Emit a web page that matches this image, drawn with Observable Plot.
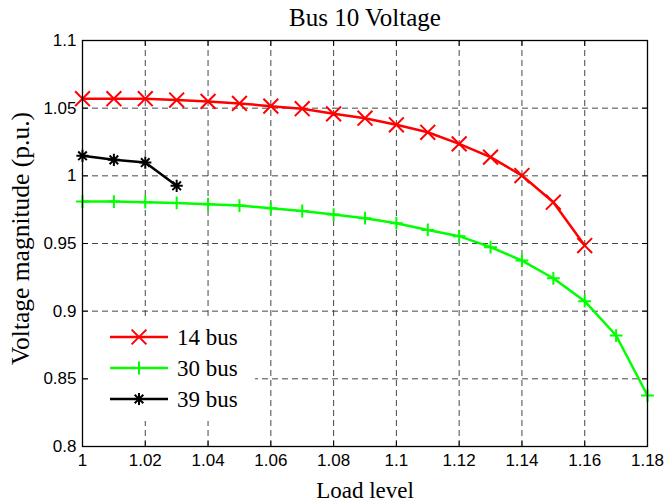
<!DOCTYPE html>
<html>
<head>
<meta charset="utf-8">
<script src="https://cdn.jsdelivr.net/npm/d3@7"></script>
<script src="https://cdn.jsdelivr.net/npm/@observablehq/plot@0.6"></script>
<style>
  html, body { margin: 0; padding: 0; background: #fff; }
  #wrap { position: relative; width: 665px; height: 504px; }
  #legend { position: absolute; left: 90px; top: 318px; width: 165px; height: 103px; background: #fff; }
</style>
</head>
<body>
<div id="wrap"><div id="chart"></div><div id="legend"></div></div>
<script>
const load14 = [1.00, 1.01, 1.02, 1.03, 1.04, 1.05, 1.06, 1.07, 1.08, 1.09, 1.10, 1.11, 1.12, 1.13, 1.14, 1.15, 1.16];
const volt14 = [1.057, 1.057, 1.057, 1.056, 1.055, 1.0535, 1.0515, 1.0496, 1.0458, 1.0426, 1.0377, 1.0322, 1.0236, 1.0138, 1.0002, 0.9805, 0.9485];
const load30 = [1.00, 1.01, 1.02, 1.03, 1.04, 1.05, 1.06, 1.07, 1.08, 1.09, 1.10, 1.11, 1.12, 1.13, 1.14, 1.15, 1.16, 1.17, 1.18];
const volt30 = [0.981, 0.981, 0.9805, 0.980, 0.979, 0.978, 0.976, 0.974, 0.9714, 0.9687, 0.965, 0.960, 0.9554, 0.9473, 0.9374, 0.9243, 0.9074, 0.882, 0.8377];
const load39 = [1.00, 1.01, 1.02, 1.03];
const volt39 = [1.0148, 1.0118, 1.0098, 0.9926];
const xTicks = [1, 1.02, 1.04, 1.06, 1.08, 1.1, 1.12, 1.14, 1.16, 1.18];
const yTicks = [0.8, 0.85, 0.9, 0.95, 1, 1.05, 1.1];
const seriesNames = ["14 bus", "30 bus", "39 bus"];
const seriesColors = ["#ff0000", "#00ff00", "#000000"];
const titleText = "Bus 10 Voltage";
const xLabel = "Load level";
const yLabel = "Voltage magnitude (p.u.)";

// 8-armed asterisk like MATLAB's '*' marker
const star8 = {
  draw(ctx, size) {
    const r = Math.sqrt(size / Math.PI) * 1.05;
    for (let k = 0; k < 4; k++) {
      const a = k * Math.PI / 4, c = Math.cos(a) * r, s = Math.sin(a) * r;
      ctx.moveTo(-c, -s); ctx.lineTo(c, s);
    }
  }
};
const seriesSymbols = [d3.symbolTimes, d3.symbolPlus, star8];
const symR = [6.8, 4.2, 5.8];

const toRows = (xs, ys, s) => xs.map((x, i) => ({x, y: ys[i], s}));
const s14 = toRows(load14, volt14, seriesNames[0]);
const s30 = toRows(load30, volt30, seriesNames[1]);
const s39 = toRows(load39, volt39, seriesNames[2]);

const fmt = d => String(+d.toFixed(2));
const tickShape = {draw(ctx, l) { ctx.moveTo(0, 0); ctx.lineTo(0, -l); }};
const sans = "Liberation Sans, Arial, sans-serif";
const serif = "Liberation Serif, Times New Roman, serif";

function series(rows, i) {
  return [
    Plot.line(rows, {x: "x", y: "y", stroke: seriesColors[i], strokeWidth: 2.5}),
    Plot.dot(rows, {x: "x", y: "y", stroke: seriesColors[i], fill: "none", symbol: seriesSymbols[i], r: symR[i], strokeWidth: 2})
  ];
}

const chart = Plot.plot({
  width: 665,
  height: 504,
  marginLeft: 82,
  marginRight: 18,
  marginTop: 40,
  marginBottom: 58,
  style: {background: "#fff", overflow: "visible"},
  x: {domain: [1, 1.18]},
  y: {domain: [0.8, 1.1]},
  marks: [
    Plot.gridX(xTicks, {stroke: "#333", strokeOpacity: 0.9, strokeDasharray: "6,4"}),
    Plot.gridY(yTicks, {stroke: "#333", strokeOpacity: 0.9, strokeDasharray: "6,4"}),
    Plot.axisX({ticks: xTicks, tickSize: 0, tickPadding: 7, tickFormat: fmt, label: null, fontSize: 17, fontFamily: sans, fill: "#000"}),
    Plot.axisY({ticks: yTicks, tickSize: 0, tickPadding: 6, tickFormat: fmt, label: null, fontSize: 17, fontFamily: sans, fill: "#000"}),
    Plot.vector(xTicks, {x: d => d, frameAnchor: "bottom", length: 5, rotate: 0, anchor: "start", shape: tickShape, stroke: "#000", strokeWidth: 1}),
    Plot.vector(xTicks, {x: d => d, frameAnchor: "top", length: 5, rotate: 180, anchor: "start", shape: tickShape, stroke: "#000", strokeWidth: 1}),
    Plot.vector(yTicks, {y: d => d, frameAnchor: "left", length: 5, rotate: 90, anchor: "start", shape: tickShape, stroke: "#000", strokeWidth: 1}),
    Plot.vector(yTicks, {y: d => d, frameAnchor: "right", length: 5, rotate: -90, anchor: "start", shape: tickShape, stroke: "#000", strokeWidth: 1}),
    ...series(s14, 0),
    ...series(s30, 1),
    ...series(s39, 2),
    Plot.frame({stroke: "#000", strokeWidth: 1.3}),
    Plot.text([titleText], {frameAnchor: "top", textAnchor: "middle", lineAnchor: "middle", dy: -23, text: d => d, fontSize: 25, fontFamily: serif, fill: "#000"}),
    Plot.text([xLabel], {frameAnchor: "bottom", textAnchor: "middle", lineAnchor: "middle", dy: 44, text: d => d, fontSize: 23, fontFamily: serif, fill: "#000"}),
    Plot.text([yLabel], {frameAnchor: "left", textAnchor: "middle", lineAnchor: "middle", dx: -62, dy: -5, rotate: -90, text: d => d, fontSize: 25.5, fontFamily: serif, fill: "#000"})
  ]
});
document.getElementById("chart").appendChild(chart);

// Legend (inside plot area, white background, no border)
const leg = d3.select("#legend").append("svg").attr("width", 165).attr("height", 103);
seriesNames.forEach((name, i) => {
  const cy = 19 + i * 31;
  const g = leg.append("g");
  g.append("line").attr("x1", 20).attr("x2", 78).attr("y1", cy).attr("y2", cy)
    .attr("stroke", seriesColors[i]).attr("stroke-width", 2.5);
  g.append("path").attr("transform", `translate(49,${cy})`)
    .attr("d", d3.symbol(seriesSymbols[i], symR[i] * symR[i] * Math.PI)())
    .attr("fill", "none").attr("stroke", seriesColors[i]).attr("stroke-width", 2);
  g.append("text").attr("x", 87).attr("y", cy).attr("dy", "0.35em")
    .attr("font-family", serif).attr("font-size", 23).attr("fill", "#000").text(name);
});
</script>
</body>
</html>
